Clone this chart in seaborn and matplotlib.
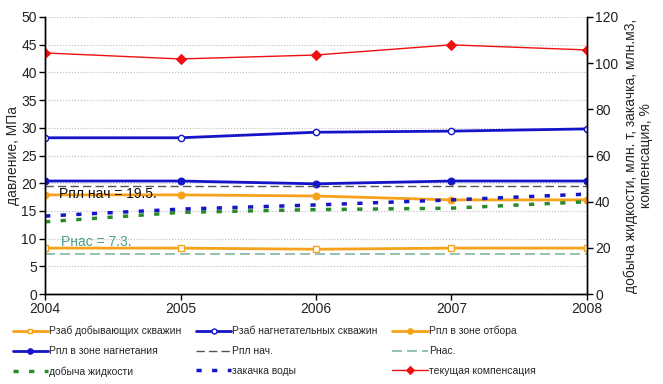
import pandas as pd
import matplotlib
matplotlib.use("Agg")
import matplotlib.pyplot as plt
import seaborn as sns

# ---------------------------------------------------------------------------
# Data
# ---------------------------------------------------------------------------

years = [2004, 2005, 2006, 2007, 2008]

# left axis, MPa
p_zab_dob = [8.3, 8.3, 8.1, 8.3, 8.3]
p_zab_nagn = [28.2, 28.2, 29.2, 29.4, 29.8]
p_pl_otbor = [17.9, 17.9, 17.7, 17.0, 17.0]
p_pl_nagn = [20.4, 20.4, 19.9, 20.4, 20.4]
p_pl_nach = [19.5, 19.5, 19.5, 19.5, 19.5]
p_nas = [7.3, 7.3, 7.3, 7.3, 7.3]

# right axis
dobycha = [31.3, 35.4, 36.6, 37.2, 40.0]
zakachka = [33.8, 36.8, 38.6, 40.8, 43.3]
kompensaciya = [104.4, 101.8, 103.5, 107.9, 105.7]

ORANGE = '#F7A21B'
BLUE = '#1414C8'
RED = '#F01010'
GREEN = '#2A8A2A'
GRAY = '#555555'
TEAL = '#7FB8A8'

# ---------------------------------------------------------------------------
# Plot
# ---------------------------------------------------------------------------

sns.set_style("white")
plt.rcParams['font.family'] = ['Liberation Sans', 'DejaVu Sans']

fig = plt.figure(figsize=(6.63, 3.84), dpi=100, facecolor='white')
ax = fig.add_axes([0.068, 0.234, 0.817, 0.722])
ax2 = ax.twinx()


def draw(axis, values, label, **kw):
    sns.lineplot(x=years, y=values, ax=axis, label=label, legend=False, **kw)


draw(ax, p_zab_dob, 'Рзаб добывающих скважин', color=ORANGE, lw=2,
     marker='s', ms=4, mfc='white', mec=ORANGE, mew=1)
draw(ax, p_zab_nagn, 'Рзаб нагнетательных скважин', color=BLUE, lw=2,
     marker='o', ms=4.5, mfc='white', mec=BLUE, mew=1)
draw(ax, p_pl_otbor, 'Рпл в зоне отбора', color=ORANGE, lw=2,
     marker='o', ms=5, mfc=ORANGE, mec=ORANGE)
draw(ax, p_pl_nagn, 'Рпл в зоне нагнетания', color=BLUE, lw=2,
     marker='o', ms=5, mfc=BLUE, mec=BLUE)
draw(ax, p_pl_nach, 'Рпл нач.', color=GRAY, lw=1, dashes=(6, 3))
draw(ax, p_nas, 'Рнас.', color=TEAL, lw=1.2, dashes=(6, 3))
draw(ax2, dobycha, 'добыча жидкости', color=GREEN, lw=2.5, dashes=(1.5, 3))
draw(ax2, zakachka, 'закачка воды', color=BLUE, lw=2.5, dashes=(1.5, 3))
draw(ax2, kompensaciya, 'текущая компенсация', color=RED, lw=1,
     marker='D', ms=5, mfc=RED, mec=RED)

ax.set_xlim(2004, 2008)
ax.set_ylim(0, 50)
ax2.set_ylim(0, 120)
ax.set_xticks(years)
ax.set_yticks(range(0, 51, 5))
ax2.set_yticks(range(0, 121, 20))

ax.yaxis.grid(True, color='#bbbbbb', linestyle=':', linewidth=0.8)
ax.xaxis.grid(False)
ax2.grid(False)

for a in (ax, ax2):
    a.spines['top'].set_visible(False)
    for s in ('left', 'right', 'bottom'):
        a.spines[s].set_color('black')
        a.spines[s].set_linewidth(1)
    a.tick_params(direction='out', length=4, width=1, colors='black',
                  labelsize=10, labelcolor='#222222')
ax.tick_params(axis='x', bottom=True, pad=2)
ax.tick_params(axis='y', left=True, pad=2)
ax2.tick_params(axis='y', right=True, pad=2)

ax.set_ylabel('давление, МПа', fontsize=10, labelpad=1)
ax2.set_ylabel('добыча жидкости, млн. т, закачка, млн.м3,\nкомпенсация, %',
               fontsize=10, labelpad=4, linespacing=1.1)

ax.text(2004.1, 19.3, 'Рпл нач = 19.5.', fontsize=10, color='#111111',
        va='top')
ax.text(2004.12, 8.2, 'Рнас = 7.3.', fontsize=10, color='#4E9E8E',
        va='bottom')

# legend, filled row by row
hl = {}
for a in (ax, ax2):
    for line in a.get_lines():
        lab = line.get_label()
        if not lab.startswith('_'):
            hl[lab] = line
order = ['Рзаб добывающих скважин', 'Рпл в зоне нагнетания', 'добыча жидкости',
         'Рзаб нагнетательных скважин', 'Рпл нач.', 'закачка воды',
         'Рпл в зоне отбора', 'Рнас.', 'текущая компенсация']
fig.legend([hl[k] for k in order], order, ncol=3, loc='upper left',
           bbox_to_anchor=(0.005, 0.176), frameon=False,
           prop={'size': 7.5},
           handlelength=3.4, handletextpad=0.1, columnspacing=1.4,
           labelspacing=0.95, markerscale=0.8)

fig.savefig('out.png', dpi=100, facecolor='white')
